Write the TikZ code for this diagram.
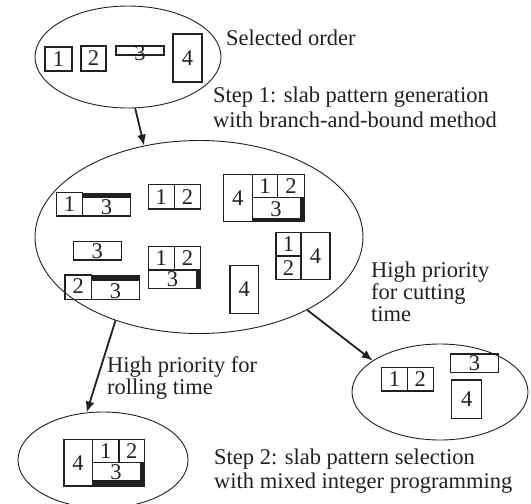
\documentclass[tikz,border=0pt]{standalone}
\usepackage{fontspec}
\setmainfont{Liberation Serif}
\usetikzlibrary{shapes.geometric,arrows.meta}
\definecolor{ink}{RGB}{35,31,32}
\tikzset{
  oval/.style={ellipse, draw=ink, line width=0.9, inner sep=0pt},
  slab/.style={draw=ink, line width=1.1},
  bar/.style={fill=ink, draw=none},
  digit/.style={inner sep=0pt, text=ink, font=\fontsize{22.5}{25}\selectfont},
  lbl/.style={inner sep=0pt, anchor=base west, text=ink, font=\fontsize{22.5}{25}\selectfont},
  flow/.style={draw=ink, line width=1.8, -{Latex[length=11,width=9]}, shorten <=0pt}
}
\begin{document}
\begin{tikzpicture}[x=1pt,y=-1pt]
\useasboundingbox (0,0) rectangle (531,504);

% ---- containers ----
\node[oval, minimum width=186, minimum height=102] (order) at (128,57) {};
\node[oval, minimum width=328, minimum height=193] (pool) at (199,237) {};
\node[oval, minimum width=176, minimum height=96] (cut) at (440,392) {};
\node[oval, minimum width=170, minimum height=96] (roll) at (103,460) {};

% ---- selected order ----
\draw[slab] (45,47) rectangle (72,71);
\node[digit] (o1) at (58.5,59) {1};
\draw[slab] (81,46) rectangle (106,71);
\node[digit] (o2) at (93.5,58.5) {2};
\draw[slab] (116,46) rectangle (164,55);
\node[digit] (o3) at (140,53.5) {3};
\draw[slab] (173,34) rectangle (202,82);
\node[digit] (o4) at (187.5,58) {4};

% ---- generated slab patterns ----
% 1 | 3
\draw[slab] (56.7,192.3) rectangle (82.3,216);
\node[digit] (a1) at (69.5,204) {1};
\fill[bar] (82.3,193.3) rectangle (130.7,198.3);
\draw[slab] (82.3,193.3) rectangle (130.7,216);
\node[digit] (a3) at (106.5,207.5) {3};
% 1 | 2
\draw[slab] (148.3,184.3) rectangle (200.7,209);
\draw[slab] (174.3,184.3) -- (174.3,209);
\node[digit] (b1) at (161.3,196.7) {1};
\node[digit] (b2) at (187.5,196.7) {2};
% 4 | 1 2 / 3
\fill[bar] (300,197.7) rectangle (304.3,221.7);
\fill[bar] (252.3,217.7) rectangle (304.3,221.7);
\draw[slab] (223.3,174.3) rectangle (304.3,221.7);
\draw[slab] (252.3,174.3) -- (252.3,221.7);
\draw[slab] (252.3,197.7) -- (304.3,197.7);
\draw[slab] (277.7,174.3) -- (277.7,197.7);
\node[digit] (c4) at (237.8,198) {4};
\node[digit] (c1) at (265,186) {1};
\node[digit] (c2) at (291,186) {2};
\node[digit] (c3) at (276,209) {3};
% 1 / 2 | 4
\draw[slab] (276,232.7) rectangle (330,279.3);
\draw[slab] (301,232.7) -- (301,279.3);
\draw[slab] (276,256) -- (301,256);
\node[digit] (d1) at (288.5,244.3) {1};
\node[digit] (d2) at (288.5,267.7) {2};
\node[digit] (d4) at (315.5,256) {4};
% 4
\draw[slab] (230,265.7) rectangle (258.5,313.3);
\node[digit] (e4) at (244.3,289.5) {4};
% 3
\draw[slab] (73.3,241.7) rectangle (121.3,260);
\node[digit] (f3) at (97.3,250.8) {3};
% 2 | 3
\draw[slab] (65,275) rectangle (91.7,299.3);
\node[digit] (g2) at (78.3,286.5) {2};
\fill[bar] (91.7,276) rectangle (139.3,281);
\draw[slab] (91.7,276) rectangle (139.3,299.3);
\node[digit] (g3) at (115.5,290.8) {3};
% 1 2 / 3
\fill[bar] (196,270) rectangle (200.7,288.3);
\draw[slab] (148.3,246.7) rectangle (200.7,288.3);
\draw[slab] (148.3,270) -- (200.7,270);
\draw[slab] (174.3,246.7) -- (174.3,270);
\node[digit] (h1) at (161.3,258.3) {1};
\node[digit] (h2) at (187.5,258.3) {2};
\node[digit] (h3) at (172.5,279) {3};

% ---- cutting-time selection ----
\draw[slab] (381.7,367.3) rectangle (433.3,391);
\draw[slab] (407.3,367.3) -- (407.3,391);
\node[digit] (p1) at (394.5,379) {1};
\node[digit] (p2) at (420.3,379) {2};
\draw[slab] (450.7,354) rectangle (498.3,372.3);
\node[digit] (p3) at (474.5,363.5) {3};
\draw[slab] (451.7,380) rectangle (481.7,418.3);
\node[digit] (p4) at (466.7,399) {4};

% ---- rolling-time selection ----
\fill[bar] (140,462.3) rectangle (144.3,486);
\fill[bar] (92.3,480) rectangle (144.3,486);
\draw[slab] (64,439.3) rectangle (144.3,486);
\draw[slab] (92.3,439.3) -- (92.3,486);
\draw[slab] (92.3,462.3) -- (144.3,462.3);
\draw[slab] (119,439.3) -- (119,462.3);
\node[digit] (r4) at (78,462.7) {4};
\node[digit] (r1) at (105.7,450.8) {1};
\node[digit] (r2) at (131.7,450.8) {2};
\node[digit] (r3) at (116,472) {3};

% ---- flow ----
\draw[flow] (order.-82) -- (pool.121);
\draw[flow] (pool.-135) -- (roll.109);
\draw[flow] (pool.-34) -- (cut.155);

% ---- captions ----
\node[lbl] (t0) at (226,45) {Selected order};
\node[lbl] (t1) at (213,102) {Step 1: slab pattern generation};
\node[lbl] (t2) at (213,127) {with branch-and-bound method};
\node[lbl] (t3) at (371,277) {High priority};
\node[lbl] (t4) at (371,299) {for cutting};
\node[lbl] (t5) at (371,321) {time};
\node[lbl] (t6) at (107,372) {High priority for};
\node[lbl] (t7) at (107,394) {rolling time};
\node[lbl] (t8) at (214,464) {Step 2: slab pattern selection};
\node[lbl] (t9) at (214,488) {with mixed integer programming};
\end{tikzpicture}
\end{document}
